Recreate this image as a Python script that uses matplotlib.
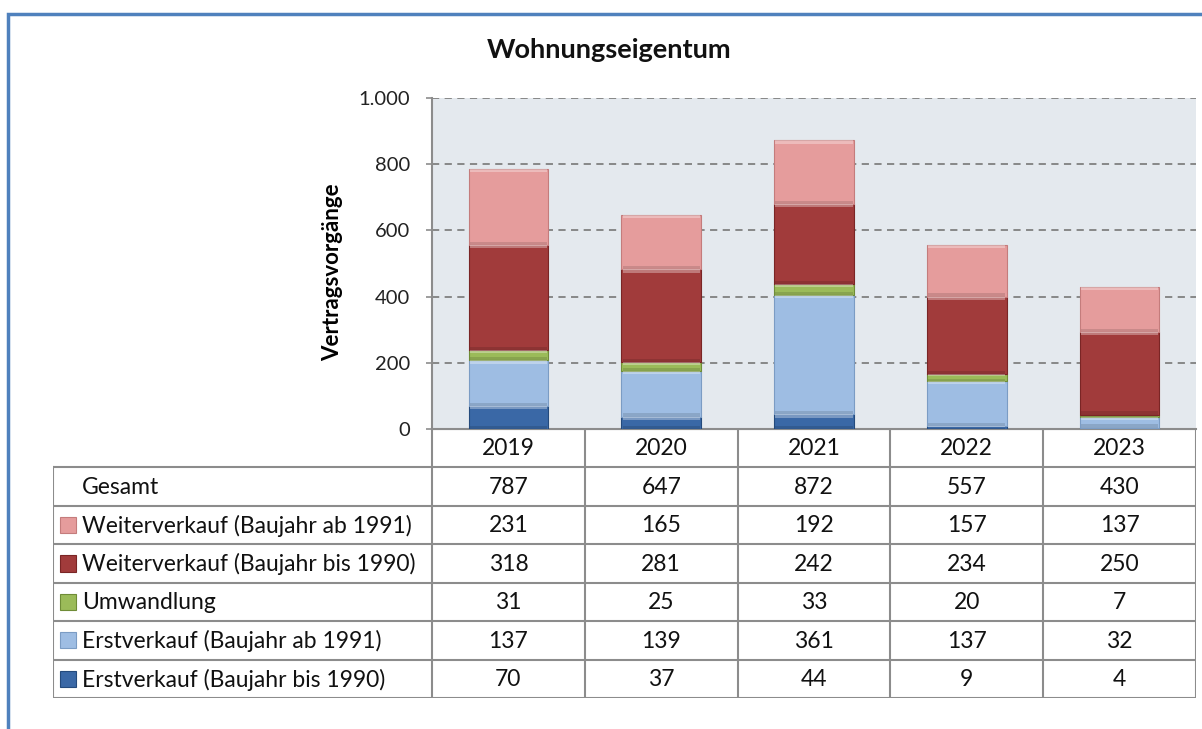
import matplotlib
matplotlib.use('Agg')
import matplotlib.pyplot as plt
import matplotlib.patches as mpatches
from matplotlib.ticker import FuncFormatter, MultipleLocator
import numpy as np

plt.rcParams['font.family'] = ['Lato', 'DejaVu Sans']

# --------------------------
# Wohnungseigentum, Vertragsvorgaenge je Jahr
# --------------------------
years = ['2019', '2020', '2021', '2022', '2023']
gesamt = [787, 647, 872, 557, 430]
weiter_ab_1991 = [231, 165, 192, 157, 137]
weiter_bis_1990 = [318, 281, 242, 234, 250]
umwandlung = [31, 25, 33, 20, 7]
erst_ab_1991 = [137, 139, 361, 137, 32]
erst_bis_1990 = [70, 37, 44, 9, 4]

# stack order from bottom to top
series = [
    ('Erstverkauf (Baujahr bis 1990)', erst_bis_1990, '#3A68A6', '#244A7C'),
    ('Erstverkauf (Baujahr ab 1991)', erst_ab_1991, '#9EBDE3', '#7B9CC4'),
    ('Umwandlung', umwandlung, '#9BBB59', '#6F8C37'),
    ('Weiterverkauf (Baujahr bis 1990)', weiter_bis_1990, '#A13B3B', '#7A2525'),
    ('Weiterverkauf (Baujahr ab 1991)', weiter_ab_1991, '#E59C9C', '#C47C7C'),
]

W, H = 1202, 729
fig = plt.figure(figsize=(W / 100, H / 100), dpi=100)


def px_rect(x0, y0, x1, y1):
    # pixel box (top-left origin) -> figure fraction rect
    return [x0 / W, 1 - y1 / H, (x1 - x0) / W, (y1 - y0) / H]


# outer frame
fig.patches.append(mpatches.Rectangle((8 / W, -0.1), 1.2, 1 - 14 / H + 0.1,
                                      transform=fig.transFigure, fill=False,
                                      edgecolor='#4F81BD', linewidth=2.5))

grid_color = '#808080'
line_color = '#8C8C8C'

ax = fig.add_axes(px_rect(432, 98, 1196, 429))
ax.set_facecolor('#E4E9EE')
x = np.arange(len(years))
bar_width = 0.52
bottom = np.zeros(len(years))
for name, values, color, dark in series:
    values = np.array(values, dtype=float)
    ax.bar(x, values, bar_width, bottom=bottom, color=color,
           edgecolor=dark, linewidth=0.8, zorder=3)
    # bevel: light band on top, darker band at the bottom of each segment
    band = np.minimum(10, values * 0.3)
    ax.bar(x, band, bar_width * 0.97, bottom=bottom + values - band,
           color='white', alpha=0.32, linewidth=0, zorder=4)
    ax.bar(x, band, bar_width * 0.97, bottom=bottom,
           color='black', alpha=0.12, linewidth=0, zorder=4)
    bottom += values

ax.set_xlim(-0.5, len(years) - 0.5)
ax.set_ylim(0, 1000)
ax.yaxis.set_major_locator(MultipleLocator(200))
ax.yaxis.set_major_formatter(FuncFormatter(lambda v, p: f'{int(v):,}'.replace(',', '.')))
ax.grid(axis='y', color=grid_color, linestyle=(0, (4, 3)), linewidth=1.3, zorder=1)
ax.set_xticks([])
ax.tick_params(axis='y', length=4, width=1.2, color=line_color, labelsize=14.5,
               labelcolor='#222222', pad=12)
for side in ['top', 'right']:
    ax.spines[side].set_visible(False)
for side in ['left', 'bottom']:
    ax.spines[side].set_color(line_color)
    ax.spines[side].set_linewidth(1.5)
ax.set_ylabel('Vertragsvorgänge', fontsize=16, fontweight='bold')
ax.yaxis.set_label_coords(-0.1165, 0.474)

fig.text(609 / W, 1 - 50 / H, 'Wohnungseigentum', ha='center', va='center',
         fontsize=19.5, fontweight='bold', color='#111111')

# data table under the bars
col_px = (1196 - 432) / len(years)
label_w = (432 - 53) / col_px
tab = fig.add_axes(px_rect(53, 429, 1196, 698))
tab.set_xlim(-0.5 - label_w, len(years) - 0.5)
tab.set_ylim(7, 0)
tab.axis('off')
left_edge = -0.5 - label_w
right_edge = len(years) - 0.5
lw = 1.5
tab.plot([-0.5, right_edge], [0, 0], color=line_color, lw=lw)
for r in range(1, 8):
    tab.plot([left_edge, right_edge], [r, r], color=line_color, lw=lw)
tab.plot([left_edge, left_edge], [1, 7], color=line_color, lw=lw)
for c in range(len(years) + 1):
    tab.plot([c - 0.5, c - 0.5], [0, 7], color=line_color, lw=lw)

text_kw = dict(fontsize=16.5, color='#111111', va='center')
for i, yr in enumerate(years):
    tab.text(i, 0.52, yr, ha='center', **text_kw)

rows = [('Gesamt', gesamt, None, None)] + [s for s in series[::-1]]
box_w = 16 / col_px
for r, (name, values, color, dark) in enumerate(rows, start=1):
    tab.text(left_edge + 29 / col_px, r + 0.52, name, ha='left', **text_kw)
    if color is not None:
        tab.add_patch(mpatches.Rectangle((left_edge + 7 / col_px, r + 0.29),
                                         box_w, 0.42, facecolor=color,
                                         edgecolor=dark, linewidth=0.8))
    for i, v in enumerate(values):
        tab.text(i, r + 0.52, str(v), ha='center', **text_kw)

plt.savefig('out.png', dpi=100)
